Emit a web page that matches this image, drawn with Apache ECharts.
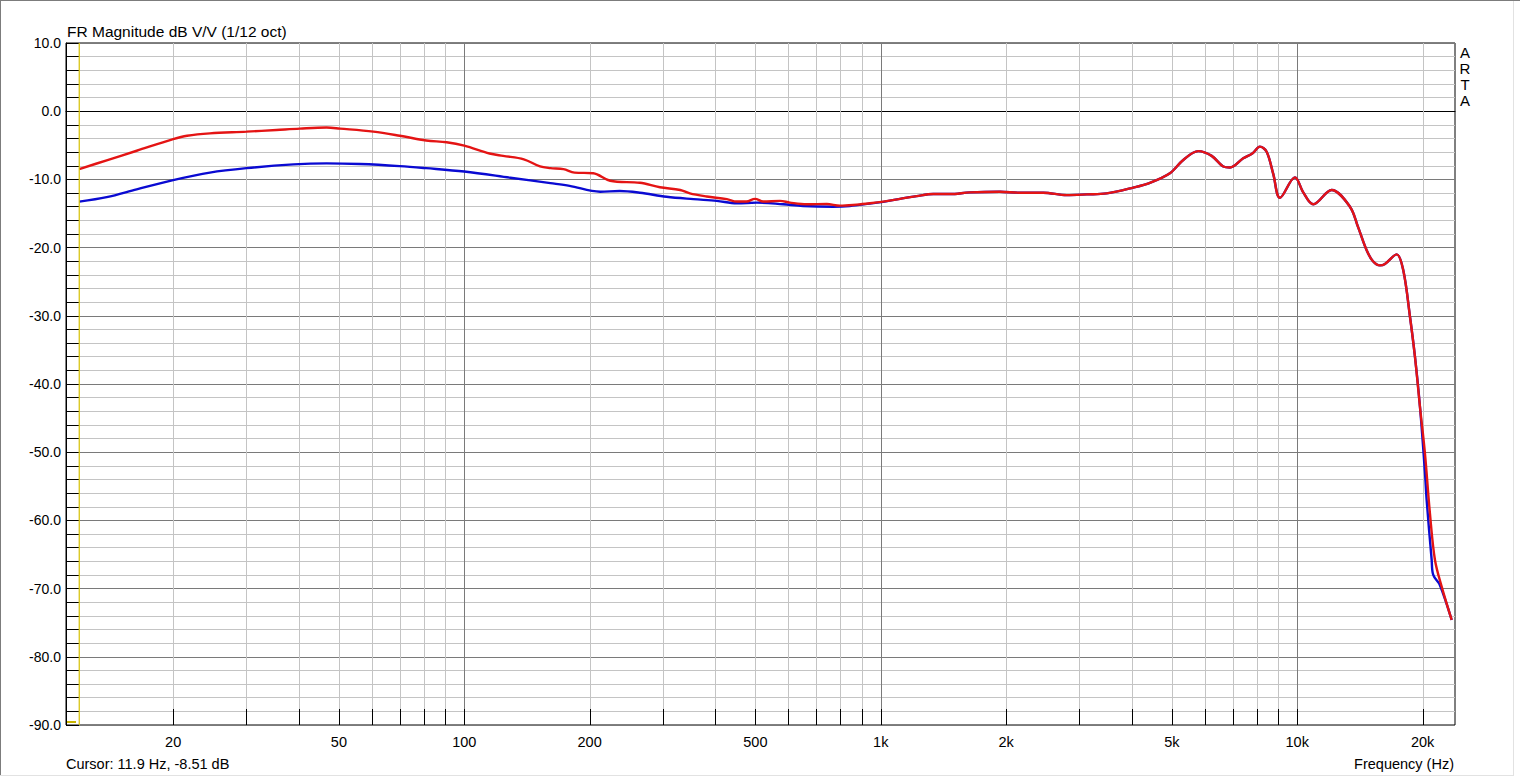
<!DOCTYPE html>
<html>
<head>
<meta charset="utf-8">
<script src="https://cdn.jsdelivr.net/npm/echarts@6/dist/echarts.min.js"></script>
<style>
html,body{margin:0;padding:0;background:#fff;}
#chart{width:1520px;height:777px;}
</style>
</head>
<body>
<div id="chart"></div>
<script>
// ---- Data ----
const redFreq = [11.9,13.85,16.35,20,21.6,24.5,30,35.4,40.3,46.7,50.3,60.5,70,81,90.7,100,115,124,139,152,161,173,184,204,224,264,295,330,348,382,427,451,476,499,522,573,605,664,742,798,875,942,1014,1112,1220,1337,1466,1638,1933,2159,2456,2795,3122,3486,4040,4430,4946,5325,5785,6231,6643,6893,7419,7800,8135,8443,8757,9088,9874,10337,10925,12093,13381,14000,14678,15200,15795,16238,17325,17967,18647,19170,19707,20260,20828,21413,22222,23488];
const redDb   = [-8.5,-7.2,-5.8,-4.1,-3.6,-3.25,-3.0,-2.75,-2.55,-2.4,-2.55,-3.0,-3.6,-4.3,-4.55,-5.05,-6.2,-6.55,-7.05,-8.1,-8.35,-8.5,-9.0,-9.1,-10.2,-10.5,-11.15,-11.55,-12.05,-12.5,-12.9,-13.25,-13.25,-12.85,-13.25,-13.15,-13.4,-13.65,-13.6,-13.85,-13.7,-13.5,-13.25,-12.85,-12.45,-12.15,-12.15,-11.9,-11.8,-11.95,-11.95,-12.3,-12.2,-12.05,-11.2,-10.5,-9.1,-7.15,-5.85,-6.55,-8.1,-8.25,-6.9,-6.2,-5.2,-5.95,-9.2,-12.7,-9.7,-11.9,-13.65,-11.55,-14.0,-17.0,-20.4,-22.0,-22.6,-22.4,-21.0,-23.3,-30.1,-36,-43.3,-50.2,-59,-65.8,-69.7,-74.6];

const blueFreq = [11.9,13.85,16.35,20,24.5,30,38.9,46.7,56.2,70,81,100,129,161,179,212,236,264,306,355,404,451,504,583,651,769,843,942,1014,1112,1220,1337,1466,1638,1933,2159,2456,2795,3122,3486,4040,4430,4946,5325,5785,6231,6643,6893,7419,7800,8135,8443,8757,9088,9874,10337,10925,12093,13381,14000,14678,15200,15795,16238,17325,17967,18647,19170,19707,20260,20450,21025,21210,22010,23488];
const blueDb   = [-13.25,-12.6,-11.45,-10.1,-9.0,-8.35,-7.8,-7.65,-7.75,-8.05,-8.35,-8.85,-9.75,-10.55,-10.95,-11.8,-11.7,-11.95,-12.55,-12.9,-13.15,-13.5,-13.4,-13.65,-13.9,-14.0,-13.9,-13.55,-13.3,-12.85,-12.45,-12.15,-12.15,-11.9,-11.8,-11.95,-11.95,-12.3,-12.2,-12.05,-11.2,-10.5,-9.1,-7.15,-5.85,-6.55,-8.1,-8.25,-6.9,-6.2,-5.2,-5.95,-9.2,-12.7,-9.7,-11.9,-13.65,-11.55,-14.0,-17.0,-20.4,-22.0,-22.6,-22.4,-21.0,-23.3,-30.1,-36,-43.3,-53,-57,-65.8,-68,-69.5,-74.6];

const gridFreqs = [20,30,40,50,60,70,80,90,100,200,300,400,500,600,700,800,900,1000,2000,3000,4000,5000,6000,7000,8000,9000,10000,20000];
const majorFreqs = [100,1000,10000];
const xLabelFreqs = [20,50,100,200,500,1000,2000,5000,10000,20000];
const xLabelTexts = ['20','50','100','200','500','1k','2k','5k','10k','20k'];
const cursorFreq = 11.9;
const xMin = 11.06, xMax = 23921;
const yMin = -90, yMax = 10;

const FONT = '"Liberation Sans", Arial, sans-serif';

const chart = echarts.init(document.getElementById('chart'), null, {renderer: 'svg'});

const zip = (a, b) => a.map((v, i) => [v, b[i]]);

const option = {
  animation: false,
  backgroundColor: '#ffffff',
  grid: {left: 66, right: 65, top: 43, bottom: 52, show: true, borderColor: '#000', borderWidth: 1, backgroundColor: 'transparent'},
  xAxis: {
    type: 'log', logBase: 10, min: xMin, max: xMax,
    axisLine: {show: true, lineStyle: {color: '#000'}},
    axisTick: {show: false}, axisLabel: {show: false}, splitLine: {show: false}, minorTick: {show: false}
  },
  yAxis: {
    type: 'value', min: yMin, max: yMax, interval: 10,
    axisLine: {show: true, lineStyle: {color: '#000'}},
    axisTick: {show: true, inside: true, length: 13, lineStyle: {color: '#000'}},
    minorTick: {show: true, splitNumber: 5, length: 13, lineStyle: {color: '#000'}},
    splitLine: {show: true, lineStyle: {color: '#7a7a7a', width: 1}},
    minorSplitLine: {show: true, lineStyle: {color: '#c4c4c4', width: 1}},
    axisLabel: {show: true, margin: 5, color: '#000', fontSize: 14, fontFamily: FONT,
      formatter: v => v.toFixed(1)}
  },
  series: [
    {
      type: 'custom', z: 1, silent: true,
      data: gridFreqs.map(f => [f, majorFreqs.indexOf(f) >= 0 ? 1 : 0]),
      renderItem: (params, api) => {
        const f = api.value(0);
        const top = api.coord([f, yMax]);
        const bot = api.coord([f, yMin]);
        const x = Math.round(top[0]) + 0.5;
        return {type: 'group', children: [
          {type: 'line', shape: {x1: x, y1: top[1], x2: x, y2: bot[1]},
           style: {stroke: api.value(1) ? '#7a7a7a' : '#c4c4c4', lineWidth: 1}},
          {type: 'line', shape: {x1: x, y1: bot[1] - 16, x2: x, y2: bot[1]},
           style: {stroke: '#000', lineWidth: 1}}
        ]};
      }
    },
    {
      type: 'custom', z: 1, silent: true, clip: false,
      data: xLabelFreqs.map(f => [f, yMin]),
      renderItem: (params, api) => {
        const p = api.coord([api.value(0), api.value(1)]);
        return {type: 'text', x: p[0], y: p[1] + 17,
          style: {text: xLabelTexts[params.dataIndex], fill: '#000', font: '14.5px ' + FONT,
            textAlign: 'center', textVerticalAlign: 'middle'}};
      }
    },
    {
      name: 'cursor', type: 'line', z: 6, showSymbol: false, silent: true,
      data: [[cursorFreq, yMin], [cursorFreq, yMax]],
      lineStyle: {color: '#d6c000', width: 1.2}, itemStyle: {color: '#d6c000'}
    },
    {
      name: 'blue', type: 'line', z: 3, showSymbol: false, smooth: 0.35,
      data: zip(blueFreq, blueDb),
      lineStyle: {color: '#0a0ad2', width: 2.4}, itemStyle: {color: '#0a0ad2'}
    },
    {
      name: 'red', type: 'line', z: 4, showSymbol: false, smooth: 0.35,
      data: zip(redFreq, redDb),
      lineStyle: {color: '#e41414', width: 2.4}, itemStyle: {color: '#e41414'}
    }
  ],
  graphic: [
    {type: 'line', shape: {x1: 0, y1: 0.5, x2: 1520, y2: 0.5}, style: {stroke: '#7c7c7c', lineWidth: 1}},
    {type: 'line', shape: {x1: 0.5, y1: 0, x2: 0.5, y2: 776}, style: {stroke: '#7c7c7c', lineWidth: 1}},
    {type: 'line', shape: {x1: 0, y1: 775.5, x2: 1514, y2: 775.5}, style: {stroke: '#e2e2e2', lineWidth: 1}},
    {type: 'line', shape: {x1: 1513.5, y1: 1, x2: 1513.5, y2: 776}, style: {stroke: '#e2e2e2', lineWidth: 1}},
    {type: 'line', shape: {x1: 67, y1: 722, x2: 76, y2: 722}, style: {stroke: '#c8b400', lineWidth: 2}},
    {type: 'text', x: 67, y: 31, style: {text: 'FR Magnitude dB V/V (1/12 oct)', fill: '#000', font: '15.5px ' + FONT, textVerticalAlign: 'middle'}},
    {type: 'text', x: 66, y: 763.5, style: {text: 'Cursor: 11.9 Hz, -8.51 dB', fill: '#000', font: '14.5px ' + FONT, textVerticalAlign: 'middle'}},
    {type: 'text', x: 1454, y: 763.5, style: {text: 'Frequency (Hz)', fill: '#000', font: '14.5px ' + FONT, textAlign: 'right', textVerticalAlign: 'middle'}},
    {type: 'text', x: 1465, y: 52, style: {text: 'A', fill: '#000', font: '15px ' + FONT, textAlign: 'center', textVerticalAlign: 'middle'}},
    {type: 'text', x: 1465, y: 68, style: {text: 'R', fill: '#000', font: '15px ' + FONT, textAlign: 'center', textVerticalAlign: 'middle'}},
    {type: 'text', x: 1465, y: 84, style: {text: 'T', fill: '#000', font: '15px ' + FONT, textAlign: 'center', textVerticalAlign: 'middle'}},
    {type: 'text', x: 1465, y: 100, style: {text: 'A', fill: '#000', font: '15px ' + FONT, textAlign: 'center', textVerticalAlign: 'middle'}}
  ]
};
chart.setOption(option);
</script>
</body>
</html>
